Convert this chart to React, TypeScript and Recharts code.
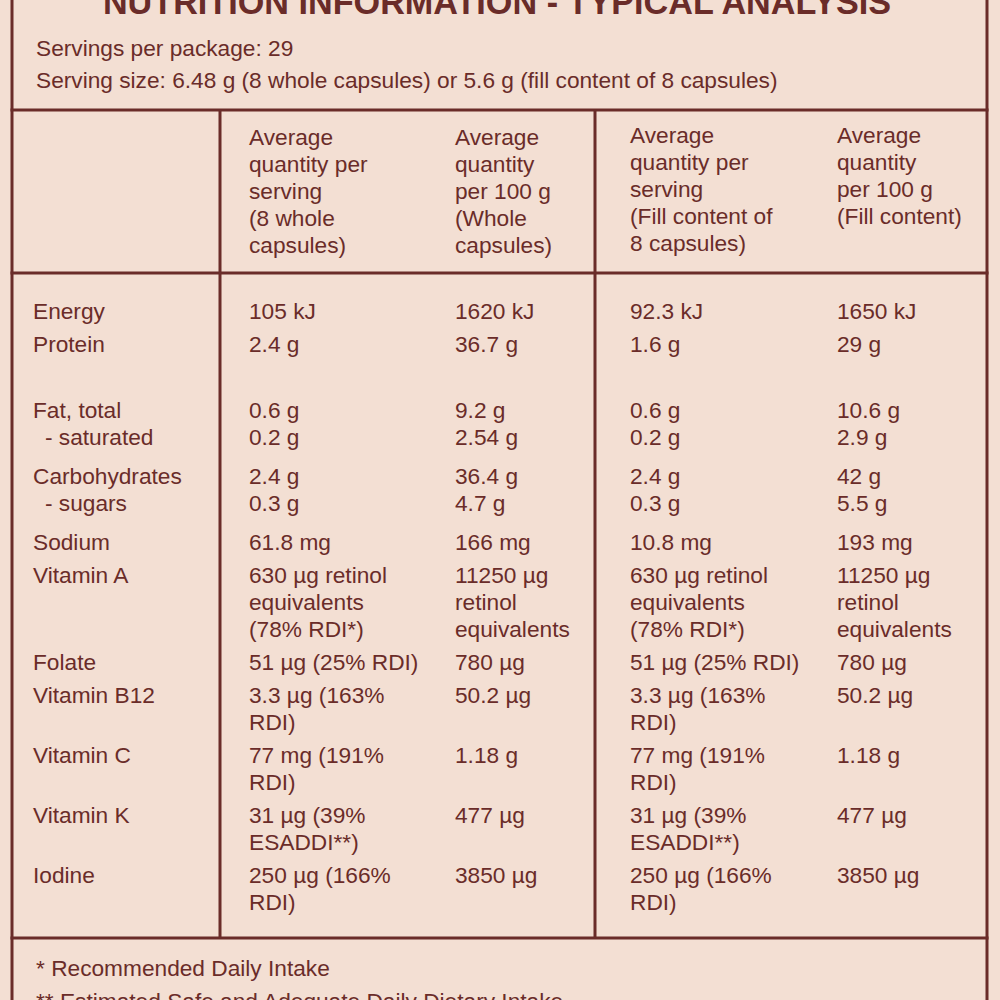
import { Layer, Rectangle, Surface, Text } from "recharts";

// Table content
const title = "NUTRITION INFORMATION - TYPICAL ANALYSIS";
const servingLines = [
  "Servings per package: 29",
  "Serving size: 6.48 g (8 whole capsules) or 5.6 g (fill content of 8 capsules)",
];
const columnHeaders = [
  ["Average", "quantity per", "serving", "(8 whole", "capsules)"],
  ["Average", "quantity", "per 100 g", "(Whole", "capsules)"],
  ["Average", "quantity per", "serving", "(Fill content of", "8 capsules)"],
  ["Average", "quantity", "per 100 g", "(Fill content)"],
];
const nutrients = [
  "Energy", "Protein", "", "Fat, total", "- saturated", "Carbohydrates", "- sugars",
  "Sodium", "Vitamin A", "Folate", "Vitamin B12", "Vitamin C", "Vitamin K", "Iodine",
];
const perServingWhole = [
  ["105 kJ"], ["2.4 g"], [""], ["0.6 g"], ["0.2 g"], ["2.4 g"], ["0.3 g"], ["61.8 mg"],
  ["630 µg retinol", "equivalents", "(78% RDI*)"], ["51 µg (25% RDI)"], ["3.3 µg (163%", "RDI)"],
  ["77 mg (191%", "RDI)"], ["31 µg (39%", "ESADDI**)"], ["250 µg (166%", "RDI)"],
];
const per100Whole = [
  ["1620 kJ"], ["36.7 g"], [""], ["9.2 g"], ["2.54 g"], ["36.4 g"], ["4.7 g"], ["166 mg"],
  ["11250 µg", "retinol", "equivalents"], ["780 µg"], ["50.2 µg"], ["1.18 g"], ["477 µg"], ["3850 µg"],
];
const perServingFill = [
  ["92.3 kJ"], ["1.6 g"], [""], ["0.6 g"], ["0.2 g"], ["2.4 g"], ["0.3 g"], ["10.8 mg"],
  ["630 µg retinol", "equivalents", "(78% RDI*)"], ["51 µg (25% RDI)"], ["3.3 µg (163%", "RDI)"],
  ["77 mg (191%", "RDI)"], ["31 µg (39%", "ESADDI**)"], ["250 µg (166%", "RDI)"],
];
const per100Fill = [
  ["1650 kJ"], ["29 g"], [""], ["10.6 g"], ["2.9 g"], ["42 g"], ["5.5 g"], ["193 mg"],
  ["11250 µg", "retinol", "equivalents"], ["780 µg"], ["50.2 µg"], ["1.18 g"], ["477 µg"], ["3850 µg"],
];
const footnotes = ["* Recommended Daily Intake", "** Estimated Safe and Adequate Daily Dietary Intake"];

const INK = "#6a2c29";
const PAPER = "#f3dfd3";
const FONT = "'Liberation Sans', Arial, sans-serif";
const SIZE = 22.7;
const LINE = 27;

// layout
const colX = [249, 455, 630, 837];
const headerY = [145, 145, 143, 143];
const bodyTop = 319;
const valueCols = [perServingWhole, per100Whole, perServingFill, per100Fill];

function rowBaselines() {
  const ys: number[] = [];
  let y = bodyTop;
  nutrients.forEach((name, i) => {
    ys.push(y);
    const lines = valueCols[0][i].length;
    const next = nutrients[i + 1] ?? "";
    const gap = next.startsWith("-") ? 0 : name.startsWith("-") ? 12 : 6;
    y += lines * LINE + gap;
  });
  return ys;
}

function Label({ x, y, children, weight }: { x: number; y: number; children: string; weight?: number }) {
  return (
    <Text x={x} y={y} fill={INK} fontFamily={FONT} fontSize={SIZE} fontWeight={weight} verticalAnchor="end">
      {children}
    </Text>
  );
}

export default function App() {
  const ys = rowBaselines();
  const hLines = [110, 273, 938];
  const vLines = [220, 595];
  return (
    <div style={{ position: "fixed", left: 0, top: 0, width: 1000, height: 1000, background: PAPER }}>
      <Surface width={1000} height={1000}>
        <Layer>
          <text x={497} y={14} textAnchor="middle" fill={INK} fontFamily={FONT} fontSize={34.2} fontWeight={700}>
            {title}
          </text>
          {servingLines.map((s, i) => (
            <Label key={s} x={36} y={56 + i * 32}>{s}</Label>
          ))}
        </Layer>

        {/* rules */}
        <Layer>
          <Rectangle x={10.5} y={-5} width={3} height={1010} fill={INK} />
          <Rectangle x={985.5} y={-5} width={3} height={1010} fill={INK} />
          {hLines.map((y) => (
            <Rectangle key={y} x={10.5} y={y - 1.5} width={978} height={3} fill={INK} />
          ))}
          {vLines.map((x) => (
            <Rectangle key={x} x={x - 1.5} y={110} width={3} height={828} fill={INK} />
          ))}
        </Layer>

        <Layer>
          {columnHeaders.map((lines, c) =>
            lines.map((t, k) => (
              <Label key={`h${c}-${k}`} x={colX[c]} y={headerY[c] + k * LINE}>{t}</Label>
            ))
          )}
        </Layer>

        <Layer>
          {nutrients.map((name, i) =>
            name ? (
              <Label key={`n${i}`} x={name.startsWith("-") ? 45 : 33} y={ys[i]}>{name}</Label>
            ) : null
          )}
          {valueCols.map((col, c) =>
            col.map((lines, i) =>
              lines.map((t, k) =>
                t ? <Label key={`v${c}-${i}-${k}`} x={colX[c]} y={ys[i] + k * LINE}>{t}</Label> : null
              )
            )
          )}
        </Layer>

        <Layer>
          {footnotes.map((f, i) => (
            <Label key={f} x={36} y={976 + i * 33}>{f}</Label>
          ))}
        </Layer>
      </Surface>
    </div>
  );
}
